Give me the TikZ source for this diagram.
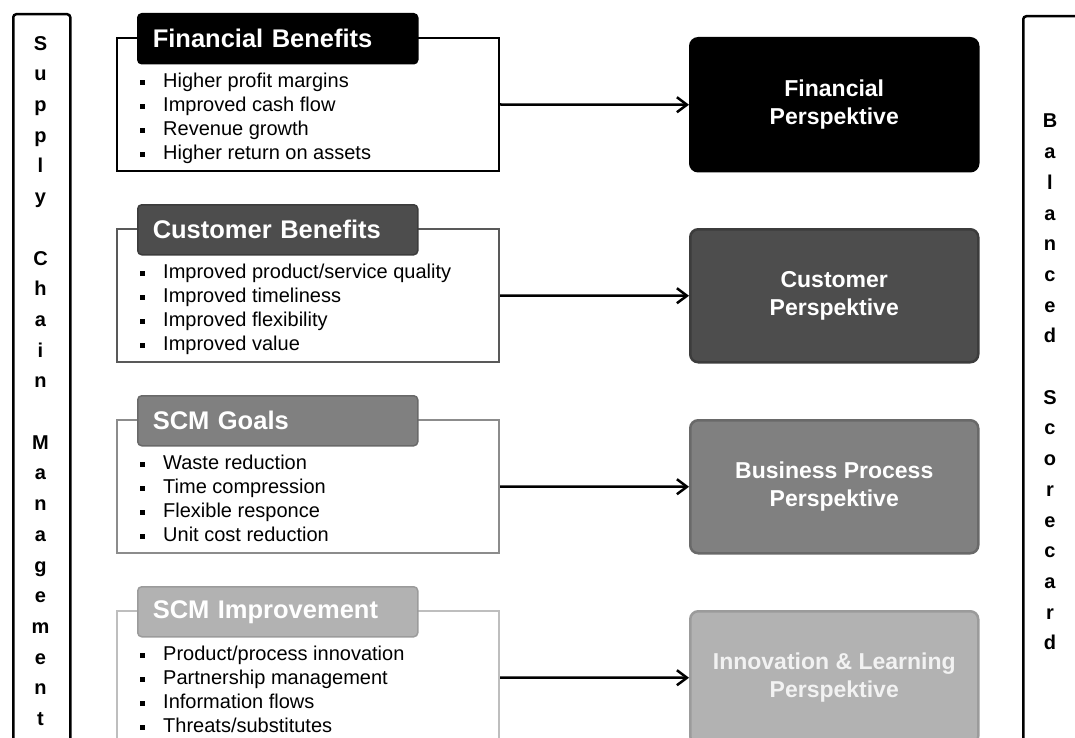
\documentclass[tikz,border=0pt]{standalone}
\usepackage{fontspec}
\setmainfont{Liberation Sans}
\usepackage{tikz}
\usetikzlibrary{arrows.meta,positioning}
\definecolor{levelA}{RGB}{0,0,0}
\definecolor{levelB}{RGB}{77,77,77}
\definecolor{levelBline}{RGB}{60,60,60}
\definecolor{levelBframe}{RGB}{89,89,89}
\definecolor{levelC}{RGB}{128,128,128}
\definecolor{levelCline}{RGB}{105,105,105}
\definecolor{levelCframe}{RGB}{140,140,140}
\definecolor{levelD}{RGB}{178,178,178}
\definecolor{levelDline}{RGB}{155,155,155}
\definecolor{levelDframe}{RGB}{190,190,190}
\definecolor{lighttext}{RGB}{242,242,242}
\newcommand{\widthlist}{382pt}
\newcommand{\widthtab}{280pt}
\newcommand{\widthtabtext}{250pt}
\newcommand{\widthpersp}{288pt}
\newcommand{\heightrow}{133pt}
\newcommand{\itm}[1]{\raisebox{3pt}{\rule{5pt}{5pt}}\hspace{18pt}#1}
\tikzset{
    common/.style={anchor=north west, draw, rectangle, inner sep=0pt},
    frame/.style={common, line width=2pt, minimum width=\widthlist, minimum height=\heightrow},
    tab/.style={common, rounded corners=4pt, line width=1.5pt, minimum width=\widthtab, minimum height=50pt,
        text width=\widthtabtext, inner xsep=15pt, align=left, text=white, font=\bfseries\fontsize{25.5}{30}\selectfont},
    persp/.style={common, rounded corners=8pt, line width=2.5pt, minimum width=\widthpersp, minimum height=\heightrow,
        align=center, text=white, font=\bfseries\fontsize{23}{28}\selectfont},
    items/.style={anchor=north west, inner sep=0pt, align=left, font=\fontsize{20}{24}\selectfont},
    bar/.style={common, rounded corners=3pt, line width=2.5pt, minimum height=760pt},
    barletters/.style={anchor=north, inner sep=0pt, align=center, font=\bfseries\fontsize{20}{30.7}\selectfont},
    link/.style={-{Straight Barb[length=10pt,width=15pt]}, line width=2.5pt}
}
\begin{document}
\begin{tikzpicture}[x=1pt, y=-1pt]
    \useasboundingbox (0,0) rectangle (1075,738);
    \clip (0,0) rectangle (1075,738);

    % side bars
    \node[bar, minimum width=57pt] (scm) at (12,13) {};
    \node[barletters] (scmtext) at (40.5,36) {S\\u\\p\\p\\l\\y\\[30.7pt]C\\h\\a\\i\\n\\[30.7pt]M\\a\\n\\a\\g\\e\\m\\e\\n\\t};
    \node[bar, minimum width=70pt] (bsc) at (1022,15) {};
    \node[barletters] (bsctext) at (1050,114) {B\\a\\l\\a\\n\\c\\e\\d\\[30.7pt]S\\c\\o\\r\\e\\c\\a\\r\\d};

    % financial
    \node[frame, draw=levelA] (finbox) at (116,37) {};
    \node[tab, fill=levelA, draw=levelA] (fintab) at (137,13) {Financial Benefits};
    \node[items] (finitems) at (140,73) {\itm{Higher profit margins}\\\itm{Improved cash flow}\\\itm{Revenue growth}\\\itm{Higher return on assets}};
    \node[persp, fill=levelA, draw=levelA] (finpersp) at (689,37) {Financial\\Perspektive};
    \draw[link] (finbox.east) -- (finpersp.west);

    % customer
    \node[frame, draw=levelBframe] (cusbox) at (116,228) {};
    \node[tab, fill=levelB, draw=levelBline] (custab) at (137,204) {Customer Benefits};
    \node[items] (cusitems) at (140,264) {\itm{Improved product/service quality}\\\itm{Improved timeliness}\\\itm{Improved flexibility}\\\itm{Improved value}};
    \node[persp, fill=levelB, draw=levelBline] (cuspersp) at (689,228) {Customer\\Perspektive};
    \draw[link] (cusbox.east) -- (cuspersp.west);

    % scm goals
    \node[frame, draw=levelCframe] (goalbox) at (116,419) {};
    \node[tab, fill=levelC, draw=levelCline] (goaltab) at (137,395) {SCM Goals};
    \node[items] (goalitems) at (140,455) {\itm{Waste reduction}\\\itm{Time compression}\\\itm{Flexible responce}\\\itm{Unit cost reduction}};
    \node[persp, fill=levelC, draw=levelCline] (goalpersp) at (689,419) {Business Process\\Perspektive};
    \draw[link] (goalbox.east) -- (goalpersp.west);

    % scm improvement
    \node[frame, draw=levelDframe] (impbox) at (116,610) {};
    \node[tab, fill=levelD, draw=levelDline] (imptab) at (137,586) {SCM Improvement};
    \node[items] (impitems) at (140,646) {\itm{Product/process innovation}\\\itm{Partnership management}\\\itm{Information flows}\\\itm{Threats/substitutes}};
    \node[persp, fill=levelD, draw=levelDline, text=lighttext] (imppersp) at (689,610) {Innovation \& Learning\\Perspektive};
    \draw[link] (impbox.east) -- (imppersp.west);
\end{tikzpicture}
\end{document}
